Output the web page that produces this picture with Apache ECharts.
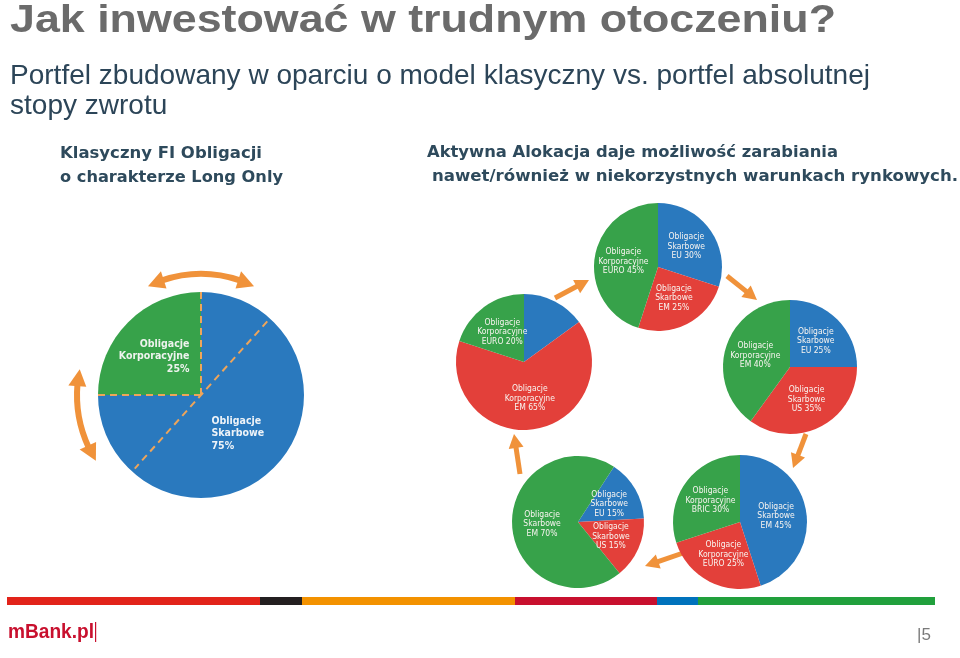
<!DOCTYPE html>
<html>
<head>
<meta charset="utf-8">
<script src="https://cdn.jsdelivr.net/npm/echarts@6/dist/echarts.min.js"></script>
<style>
  html, body { margin: 0; padding: 0; background: #fff; }
  #main { width: 960px; height: 658px; }
</style>
</head>
<body>
<div id="main"></div>
<script>
// dane - portfel klasyczny
var classicNames = ['Obligacje\nKorporacyjne', 'Obligacje\nSkarbowe'];
var classicValues = [25, 75];

// dane - aktywna alokacja (5 portfeli, w kolejnosci wskazowek zegara)
var p1Names = ['Obligacje\nKorporacyjne\nBRIC', 'Obligacje\nKorporacyjne\nEM', 'Obligacje\nKorporacyjne\nEURO'];
var p1Values = [15, 65, 20];
var p2Names = ['Obligacje\nSkarbowe\nEU', 'Obligacje\nSkarbowe\nEM', 'Obligacje\nKorporacyjne\nEURO'];
var p2Values = [30, 25, 45];
var p3Names = ['Obligacje\nSkarbowe\nEU', 'Obligacje\nSkarbowe\nUS', 'Obligacje\nKorporacyjne\nEM'];
var p3Values = [25, 35, 40];
var p4Names = ['Obligacje\nSkarbowe\nEU', 'Obligacje\nSkarbowe\nUS', 'Obligacje\nSkarbowe\nEM'];
var p4Values = [15, 15, 70];
var p5Names = ['Obligacje\nSkarbowe\nEM', 'Obligacje\nKorporacyjne\nEURO', 'Obligacje\nKorporacyjne\nBRIC'];
var p5Values = [45, 25, 30];

// teksty
var titleText = 'Jak inwestować w trudnym otoczeniu?';
var subLines = ['Portfel zbudowany w oparciu o model klasyczny vs. portfel absolutnej', 'stopy zwrotu'];
var leftHead = ['Klasyczny FI Obligacji', 'o charakterze Long Only'];
var rightHead = ['Aktywna Alokacja daje możliwość zarabiania', 'nawet/również w niekorzystnych warunkach rynkowych.'];

// kolory
var BLUE = '#2a79be', RED = '#e3403a', GREEN = '#37a24a', ORANGE = '#f0923a';

var chart = echarts.init(document.getElementById('main'));

var ctx = document.createElement('canvas').getContext('2d');
function fitScale(txt, font, w) {
  ctx.font = font;
  return w / ctx.measureText(txt).width;
}
function text(txt, x, y, font, fill, w) {
  return {
    type: 'text', x: x, y: y, scaleX: w ? fitScale(txt, font, w) : 1, silent: true,
    style: { text: txt, font: font, fill: fill, verticalAlign: 'middle', align: 'left' }
  };
}

function arrow(x1, y1, x2, y2, w, hw, hl) {
  var dx = x2 - x1, dy = y2 - y1, L = Math.sqrt(dx * dx + dy * dy);
  var ux = dx / L, uy = dy / L, nx = -uy, ny = ux;
  var bx = x2 - ux * hl, by = y2 - uy * hl;
  return [
    { type: 'line', silent: true, shape: { x1: x1, y1: y1, x2: bx + ux, y2: by + uy }, style: { stroke: ORANGE, lineWidth: w } },
    { type: 'polygon', silent: true, shape: { points: [[x2, y2], [bx + nx * hw, by + ny * hw], [bx - nx * hw, by - ny * hw]] }, style: { fill: ORANGE } }
  ];
}

// luk ze strzalkami na obu koncach (katy w stopniach, uklad canvas)
function arcArrow(cx, cy, r, a1, a2, w, hw, hl) {
  var t1 = a1 * Math.PI / 180, t2 = a2 * Math.PI / 180, dt = hl / r;
  var els = [{
    type: 'arc', silent: true,
    shape: { cx: cx, cy: cy, r: r, startAngle: t1 + dt * 0.9, endAngle: t2 - dt * 0.9, clockwise: true },
    style: { stroke: ORANGE, lineWidth: w, fill: 'none' }
  }];
  function head(t, tb) {
    var px = cx + r * Math.cos(t), py = cy + r * Math.sin(t);
    var bx = cx + r * Math.cos(tb), by = cy + r * Math.sin(tb);
    var rx = Math.cos(tb), ry = Math.sin(tb);
    return { type: 'polygon', silent: true, shape: { points: [[px, py], [bx + rx * hw, by + ry * hw], [bx - rx * hw, by - ry * hw]] }, style: { fill: ORANGE } };
  }
  els.push(head(t1, t1 + dt));
  els.push(head(t2, t2 - dt));
  return els;
}

var labelFont = 'Tahoma, "DejaVu Sans Condensed", "DejaVu Sans", sans-serif';

function smallPie(names, values, colors, center, r, start) {
  return {
    type: 'pie', center: center, radius: r, startAngle: start, clockwise: true,
    silent: true, animation: false, avoidLabelOverlap: false,
    emphasis: { disabled: true },
    label: {
      show: true, position: 'inside', formatter: '{b} {c}%',
      color: '#f8f4f0', fontSize: 8.5, lineHeight: 9.5, fontFamily: labelFont
    },
    labelLine: { show: false },
    itemStyle: { borderWidth: 0 },
    data: names.map(function (n, i) { return { name: n, value: values[i], itemStyle: { color: colors[i] } }; })
  };
}

// uklad
var cc = [201, 395], cr = 103;
var series = [];
series.push({
  type: 'pie', center: cc, radius: cr, startAngle: 90, clockwise: false,
  silent: true, animation: false, avoidLabelOverlap: false,
  emphasis: { disabled: true },
  label: {
    show: true, position: 'inside',
    formatter: function (p) {
      var tag = p.dataIndex === 0 ? 'r' : 'l';
      return (p.name + '\n' + p.value + '%').split('\n').map(function (s) { return '{' + tag + '|' + s + '}'; }).join('\n');
    },
    rich: {
      r: { width: 78, align: 'right', padding: [0, 24, 0, 0], color: '#eef3ee', fontSize: 10.5, fontWeight: 'bold', lineHeight: 12.5, fontFamily: labelFont },
      l: { width: 60, align: 'left', padding: [0, 0, 0, 4], color: '#eef3f8', fontSize: 10.5, fontWeight: 'bold', lineHeight: 12.5, fontFamily: labelFont }
    }
  },
  labelLine: { show: false },
  itemStyle: { borderWidth: 0 },
  data: classicNames.map(function (n, i) { return { name: n, value: classicValues[i], itemStyle: { color: i === 0 ? GREEN : BLUE } }; })
});
series.push(smallPie(p1Names, p1Values, [BLUE, RED, GREEN], [524, 362], 68, 90));
series.push(smallPie(p2Names, p2Values, [BLUE, RED, GREEN], [658, 267], 64, 90));
series.push(smallPie(p3Names, p3Values, [BLUE, RED, GREEN], [790, 367], 67, 90));
series.push(smallPie(p4Names, p4Values, [BLUE, RED, GREEN], [578, 522], 66, 57));
series.push(smallPie(p5Names, p5Values, [BLUE, RED, GREEN], [740, 522], 67, 90));

var g = [];
// naglowki
var subFont = '28px "Liberation Sans", Arial, sans-serif';
var subScale = fitScale(subLines[0], subFont, 860);
g.push(text(titleText, 10, 21, 'bold 39px "Liberation Sans", Arial, sans-serif', '#6b6b6b', 826));
g.push(text(subLines[0], 10, 76, subFont, '#2c4558', 860));
g.push(text(subLines[1], 10, 106, subFont, '#2c4558', fitScale(subLines[1], subFont, 1) > 0 ? subScale / fitScale(subLines[1], subFont, 1) : 0));
g.push(text(leftHead[0], 60, 154, 'bold 16px "DejaVu Sans", sans-serif', '#2e4a5c', 202));
g.push(text(leftHead[1], 60, 178, 'bold 16px "DejaVu Sans", sans-serif', '#2e4a5c', 223));
g.push(text(rightHead[0], 427, 153, 'bold 16px "DejaVu Sans", sans-serif', '#2e4a5c', 411));
g.push(text(rightHead[1], 432, 177, 'bold 16px "DejaVu Sans", sans-serif', '#2e4a5c', 526));

// przerywane linie na klasycznym wykresie (granice wycinkow + przekatna)
var cum = 0, total = classicValues.reduce(function (a, b) { return a + b; }, 0);
var bounds = [90];
classicValues.forEach(function (v) { cum += v; bounds.push(90 + cum / total * 360); });
bounds.slice(0, 2).forEach(function (a) {
  var t = a * Math.PI / 180;
  g.push({ type: 'line', silent: true, z: 10, shape: { x1: cc[0], y1: cc[1], x2: cc[0] + cr * Math.cos(t), y2: cc[1] - cr * Math.sin(t) },
    style: { stroke: '#eea55a', lineWidth: 2, lineDash: [7, 5] } });
});
var diag = 48 * Math.PI / 180;
g.push({ type: 'line', silent: true, z: 10,
  shape: { x1: cc[0] + (cr - 4) * Math.cos(diag), y1: cc[1] - (cr - 4) * Math.sin(diag), x2: cc[0] - (cr - 4) * Math.cos(diag), y2: cc[1] + (cr - 4) * Math.sin(diag) },
  style: { stroke: '#eea55a', lineWidth: 2, lineDash: [7, 5] } });

// strzalki wokol klasycznego wykresu
g = g.concat(arcArrow(cc[0], cc[1], 121, -116, -64, 6, 9, 17));
g = g.concat(arcArrow(cc[0], cc[1], 124, 148, 192, 6, 9, 17));

// strzalki cyklu
g = g.concat(arrow(555, 298, 589, 280, 5, 7.5, 14));
g = g.concat(arrow(727, 276, 757, 300, 5, 7.5, 14));
g = g.concat(arrow(806, 434, 793, 468, 5, 7.5, 14));
g = g.concat(arrow(686, 552, 645, 566, 5, 7.5, 14));
g = g.concat(arrow(520, 474, 514, 434, 5, 7.5, 14));

// pasek na dole
[[7, 260, '#e2231a'], [260, 302, '#231f20'], [302, 515, '#f39200'], [515, 657, '#c8102e'], [657, 698, '#0072bc'], [698, 935, '#21a03c']].forEach(function (s) {
  g.push({ type: 'rect', silent: true, shape: { x: s[0], y: 597, width: s[1] - s[0], height: 8 }, style: { fill: s[2] } });
});
g.push(text('mBank.pl', 8, 632, 'bold 21px "Liberation Sans", Arial, sans-serif', '#c8102e', 86));
g.push({ type: 'rect', silent: true, shape: { x: 95, y: 622, width: 1.2, height: 20 }, style: { fill: '#c8102e' } });
g.push(text('|5', 917, 635, '17px "Liberation Sans", Arial, sans-serif', '#7a7a7a', 0));

chart.setOption({
  animation: false,
  series: series,
  graphic: g
});
</script>
</body>
</html>
